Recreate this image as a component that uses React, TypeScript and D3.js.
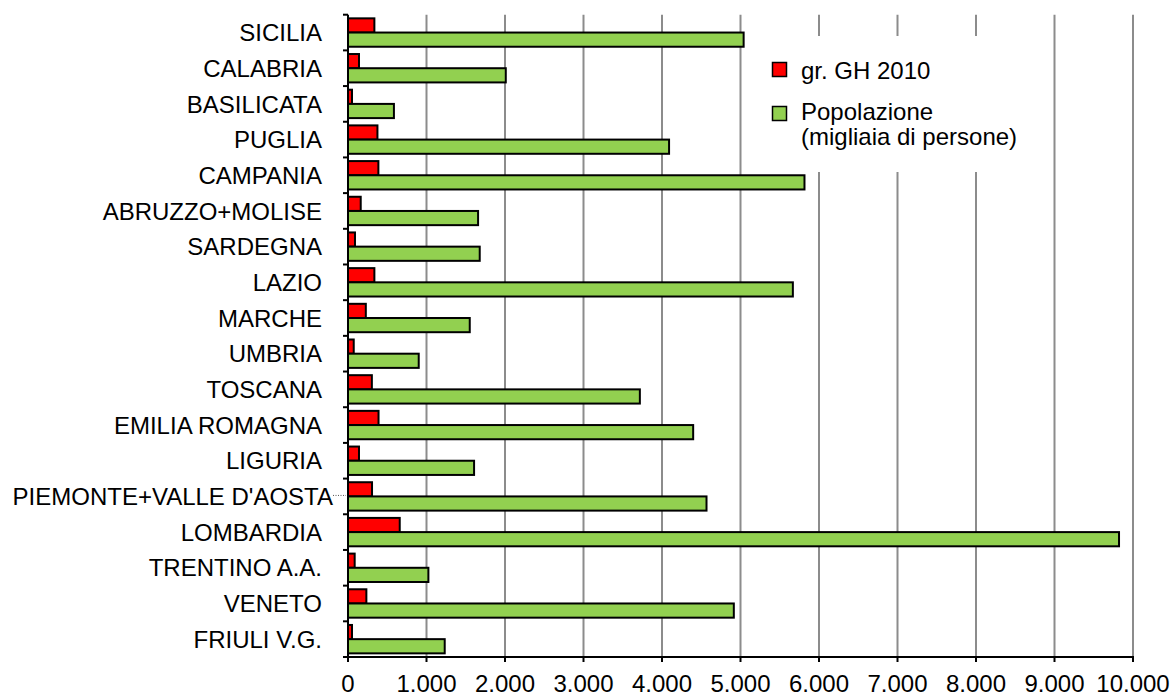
import React from 'react';
import * as d3 from 'd3';

// regions, top to bottom as in the chart
const regions = [
  'SICILIA', 'CALABRIA', 'BASILICATA', 'PUGLIA', 'CAMPANIA', 'ABRUZZO+MOLISE',
  'SARDEGNA', 'LAZIO', 'MARCHE', 'UMBRIA', 'TOSCANA', 'EMILIA ROMAGNA', 'LIGURIA',
  "PIEMONTE+VALLE D'AOSTA", 'LOMBARDIA', 'TRENTINO A.A.', 'VENETO', 'FRIULI V.G.',
];
const ghValues = [336, 140, 51, 375, 387, 162, 89, 336, 227, 73, 304, 389, 140, 306, 659, 85, 234, 51];
const popValues = [5040, 2010, 585, 4090, 5815, 1657, 1678, 5667, 1551, 901, 3718, 4397, 1606, 4567, 9822, 1024, 4915, 1232];
const seriesNames = ['gr. GH 2010', 'Popolazione', '(migliaia di persone)'];
const xTicks = [0, 1000, 2000, 3000, 4000, 5000, 6000, 7000, 8000, 9000, 10000];

const W = 1176, H = 699;
const left = 348, right = 1133, top = 14.7, bottom = 657;
const RED = '#FF0000', GREEN = '#92D050', GRID = '#8c8c8c';
const FONT = '"Liberation Sans", Arial, sans-serif';
const FS = 24;

const itLocale = d3.formatLocale({ decimal: ',', thousands: '.', grouping: [3], currency: ['', ''] });
const fmt = itLocale.format(',d');

export default function App() {
  const x = d3.scaleLinear().domain([0, 10000]).range([left, right]);
  const y = d3.scaleBand<string>().domain(regions).range([top, bottom]).padding(0);
  const sub = d3.scaleBand<string>().domain(['gh', 'pop']).range([0, y.bandwidth()]).paddingInner(0).paddingOuter(0.257);
  const bounds = regions.map(r => y(r) as number).concat([bottom]);
  const piemonteY = (y("PIEMONTE+VALLE D'AOSTA") as number) + y.bandwidth() / 2;

  return (
    <svg width={W} height={H} style={{ position: 'absolute', left: 0, top: 0, background: '#fff' }} fontFamily={FONT}>
      {/* vertical gridlines */}
      {xTicks.slice(1).map(t => (
        <line key={t} x1={x(t)} x2={x(t)} y1={top} y2={bottom} stroke={GRID} strokeWidth={2} />
      ))}

      {/* legend, white box over the grid */}
      <rect x={762} y={36} width={268} height={136} fill="#fff" />
      <rect x={772.5} y={62.5} width={14} height={14} fill={RED} stroke="#000" strokeWidth={1.5} />
      <rect x={772.5} y={106.5} width={14} height={14} fill={GREEN} stroke="#000" strokeWidth={1.5} />
      <text x={801} y={79} fontSize={FS}>{seriesNames[0]}</text>
      <text x={801} y={120} fontSize={FS}>{seriesNames[1]}</text>
      <text x={801} y={145} fontSize={FS}>{seriesNames[2]}</text>

      {/* bars */}
      {regions.map((r, i) => {
        const y0 = y(r) as number;
        return (
          <g key={r}>
            <rect x={x(0)} y={y0 + (sub('gh') as number)} width={x(ghValues[i]) - x(0)} height={sub.bandwidth()}
              fill={RED} stroke="#000" strokeWidth={2} />
            <rect x={x(0)} y={y0 + (sub('pop') as number)} width={x(popValues[i]) - x(0)} height={sub.bandwidth()}
              fill={GREEN} stroke="#000" strokeWidth={2} />
          </g>
        );
      })}

      {/* y axis */}
      <line x1={left} x2={left} y1={top} y2={bottom + 1} stroke="#000" strokeWidth={2} />
      {bounds.map((b, i) => (
        <line key={i} x1={left - 5} x2={left} y1={b} y2={b} stroke="#000" strokeWidth={2} />
      ))}
      {regions.map(r => (
        <text key={r} x={r.startsWith('PIEMONTE') ? 333 : 322} y={(y(r) as number) + y.bandwidth() / 2}
          dy="0.36em" textAnchor="end" fontSize={FS}>{r}</text>
      ))}
      <line x1={333} x2={346} y1={piemonteY - 1} y2={piemonteY - 1} stroke="#555" strokeWidth={1} strokeDasharray="1,1.5" />

      {/* x axis */}
      <line x1={left - 1} x2={right + 1} y1={bottom} y2={bottom} stroke="#000" strokeWidth={2} />
      {xTicks.map(t => (
        <g key={t}>
          <line x1={x(t)} x2={x(t)} y1={bottom} y2={bottom + 5} stroke="#000" strokeWidth={2} />
          <text x={x(t)} y={692} textAnchor="middle" fontSize={FS}>{fmt(t)}</text>
        </g>
      ))}
    </svg>
  );
}
